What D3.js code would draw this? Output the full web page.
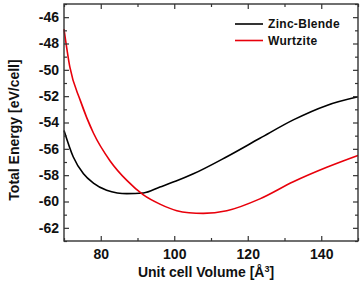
<!DOCTYPE html>
<html>
<head>
<meta charset="utf-8">
<script src="https://cdnjs.cloudflare.com/ajax/libs/d3/7.8.5/d3.min.js"></script>
<style>
  body { margin: 0; background: #fff; }
  text { font-family: "Liberation Sans", Arial, sans-serif; }
  .tick text { font-size: 14px; font-weight: bold; fill: #111; }
  .axis-label { font-size: 14px; font-weight: bold; fill: #111; }
  .legend text { font-size: 12px; font-weight: bold; fill: #111; letter-spacing: 0.3px; }
</style>
</head>
<body>
<svg width="360" height="286"></svg>
<script>
// volume (A^3) vs total energy (eV/cell)
const zbVolume = [70, 72.5, 75.3, 78, 81.6, 84.5, 87.1, 91.6, 96.1, 100.5, 105.2, 114.3, 123.3, 132.4, 141.5, 150];
const zbEnergy = [-54.6, -56.6, -57.9, -58.6, -59.15, -59.35, -59.4, -59.35, -58.9, -58.45, -57.9, -56.6, -55.2, -53.8, -52.7, -52.05];

const wzVolume = [70, 71.6, 74.4, 78, 82.5, 87.1, 91.6, 96.1, 100.7, 104, 107.9, 114.3, 123.3, 132.4, 141.5, 150];
const wzEnergy = [-46.9, -49.8, -52.3, -54.8, -56.9, -58.4, -59.5, -60.2, -60.7, -60.85, -60.9, -60.7, -59.8, -58.5, -57.4, -56.5];

const xMajor = [80, 100, 120, 140];
const xMinor = [70, 90, 110, 130, 150];
const yMajor = [-62, -60, -58, -56, -54, -52, -50, -48, -46];
const yMinor = [-63, -61, -59, -57, -55, -53, -51, -49, -47, -45];

const series = [
  {name: 'Zinc-Blende', color: '#000', x: zbVolume, y: zbEnergy},
  {name: 'Wurtzite', color: '#e8000b', x: wzVolume, y: wzEnergy}
];

const svg = d3.select('svg');
const width = +svg.attr('width');
const height = +svg.attr('height');

const margin = {top: 4, right: 2, bottom: 45, left: 64};
const innerWidth = width - margin.left - margin.right;
const innerHeight = height - margin.top - margin.bottom;

const xScale = d3.scaleLinear().domain([70, 150]).range([0, innerWidth]);
const yScale = d3.scaleLinear().domain([-63, -45]).range([innerHeight, 0]);

const g = svg.append('g')
  .attr('transform', `translate(${margin.left}, ${margin.top})`);

// curves
const line = d3.line()
  .x(d => xScale(d[0]))
  .y(d => yScale(d[1]))
  .curve(d3.curveMonotoneX);

series.forEach(s => {
  g.append('path')
    .datum(s.x.map((v, i) => [v, s.y[i]]))
    .attr('fill', 'none')
    .attr('stroke', s.color)
    .attr('stroke-width', 1.6)
    .attr('d', line);
});

// axes, ticks pointing inward on all four sides
const axisColor = '#333';
const styleAxis = sel => {
  sel.selectAll('.domain').remove();
  sel.selectAll('.tick line').attr('stroke', axisColor).attr('stroke-width', 1.2);
};
// unlabeled axes: drop the empty text nodes
const bare = sel => {
  styleAxis(sel);
  sel.selectAll('.tick text').remove();
};

g.append('g').attr('transform', `translate(0, ${innerHeight})`)
  .call(d3.axisBottom(xScale).tickValues(xMajor).tickSize(-5).tickPadding(8).tickFormat(d3.format('d')))
  .call(styleAxis);
g.append('g').attr('transform', `translate(0, ${innerHeight})`)
  .call(d3.axisBottom(xScale).tickValues(xMinor).tickSize(-3))
  .call(bare);
g.append('g')
  .call(d3.axisTop(xScale).tickValues(xMajor).tickSize(-5))
  .call(bare);
g.append('g')
  .call(d3.axisTop(xScale).tickValues(xMinor).tickSize(-3))
  .call(bare);

g.append('g')
  .call(d3.axisLeft(yScale).tickValues(yMajor).tickSize(-5).tickPadding(5).tickFormat(d => d3.format('d')(d).replace('−', '-')))
  .call(styleAxis);
g.append('g')
  .call(d3.axisLeft(yScale).tickValues(yMinor).tickSize(-3))
  .call(bare);
g.append('g').attr('transform', `translate(${innerWidth}, 0)`)
  .call(d3.axisRight(yScale).tickValues(yMajor).tickSize(-5))
  .call(bare);
g.append('g').attr('transform', `translate(${innerWidth}, 0)`)
  .call(d3.axisRight(yScale).tickValues(yMinor).tickSize(-3))
  .call(bare);

g.selectAll('.tick text').attr('font-family', null).attr('font-size', null);

// frame
g.append('rect')
  .attr('width', innerWidth)
  .attr('height', innerHeight)
  .attr('fill', 'none')
  .attr('stroke', axisColor)
  .attr('stroke-width', 1.4);

// axis labels
g.append('text')
  .attr('class', 'axis-label')
  .attr('x', innerWidth / 2 - 5)
  .attr('y', innerHeight + 36)
  .attr('text-anchor', 'middle')
  .html('Unit cell Volume [Å<tspan dy="-5" font-size="9px">3</tspan><tspan dy="5">]</tspan>');

g.append('text')
  .attr('class', 'axis-label')
  .attr('transform', 'rotate(-90)')
  .attr('x', -126)
  .attr('y', -45)
  .attr('text-anchor', 'middle')
  .text('Total Energy [eV/cell]');

// legend
const legend = g.append('g').attr('class', 'legend')
  .attr('transform', 'translate(171, 20)');
series.forEach((s, i) => {
  const row = legend.append('g').attr('transform', `translate(0, ${i * 16.5})`);
  row.append('line')
    .attr('x1', 0).attr('x2', 28)
    .attr('stroke', s.color).attr('stroke-width', 1.6);
  row.append('text')
    .attr('x', 33).attr('dy', '0.35em')
    .text(s.name);
});
</script>
</body>
</html>
